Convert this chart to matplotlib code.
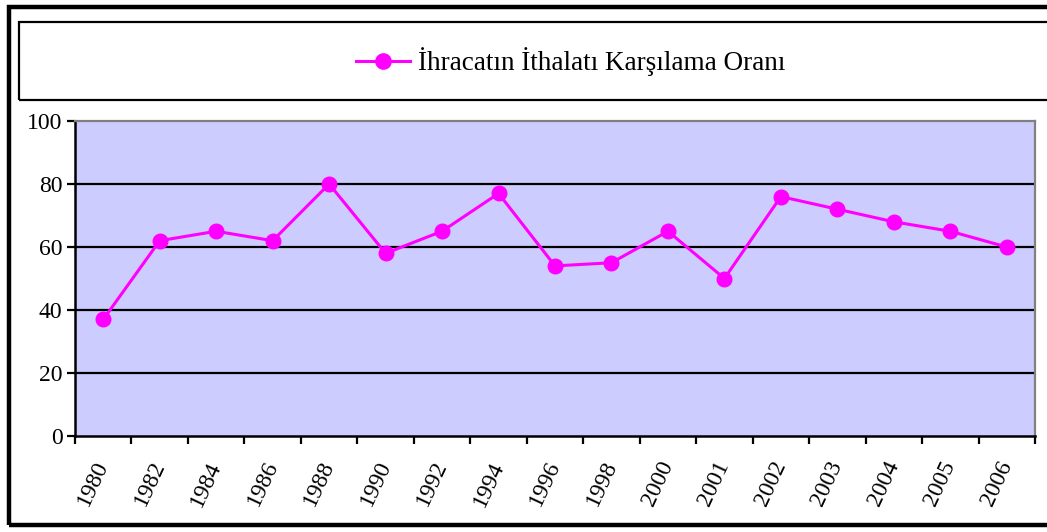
import matplotlib
matplotlib.use("Agg")
import matplotlib.pyplot as plt
from matplotlib.patches import Rectangle
from matplotlib.lines import Line2D

years = ["1980", "1982", "1984", "1986", "1988", "1990", "1992", "1994", "1996",
         "1998", "2000", "2001", "2002", "2003", "2004", "2005", "2006"]
ratio = [37, 62, 65, 62, 80, 58, 65, 77, 54, 55, 65, 50, 76, 72, 68, 65, 60]
yticks = [0, 20, 40, 60, 80, 100]
series_name = "İhracatın İthalatı Karşılama Oranı"

plt.rcParams['font.family'] = ['Liberation Serif', 'DejaVu Serif']

W, H = 1047, 532
fig = plt.figure(figsize=(W / 100, H / 100), dpi=100)

def fx(px):
    return px / W

def fy(py):
    return 1 - py / H

# outer border
fig.patches.append(Rectangle((fx(9), fy(525)), fx(1060) - fx(9), fy(7) - fy(525),
                             transform=fig.transFigure, fill=False,
                             edgecolor='black', linewidth=3.2, clip_on=False))
# legend box
fig.patches.append(Rectangle((fx(19), fy(100)), fx(1060) - fx(19), fy(22) - fy(100),
                             transform=fig.transFigure, fill=False,
                             edgecolor='black', linewidth=1.6, clip_on=False))

ax = fig.add_axes([fx(75), fy(436), fx(1035) - fx(75), fy(121) - fy(436)])
ax.set_facecolor('#CCCCFF')
x = list(range(len(years)))
ax.plot(x, ratio, color='#FF00FF', linewidth=2.2, marker='o', markersize=10.5,
        markerfacecolor='#FF00FF', markeredgecolor='#FF00FF', zorder=3)

ax.set_xlim(-0.5, len(years) - 0.5)
ax.set_ylim(0, 100)
ax.set_yticks(yticks)
ax.set_yticklabels([str(v) for v in yticks], fontsize=17)
for v in yticks[1:-1]:
    ax.axhline(v, color='black', linewidth=1.6, zorder=1)

ax.set_xticks(x)
ax.set_xticklabels(years, fontsize=17, rotation=65, ha='right', va='center',
                   rotation_mode='anchor')
ax.tick_params(axis='x', which='major', length=0, pad=19)
ax.set_xticks([i - 0.5 for i in range(len(years) + 1)], minor=True)
ax.tick_params(axis='x', which='minor', length=6, width=1.6, direction='out', color='black')
ax.tick_params(axis='y', length=6, width=1.6, direction='out', pad=3, color='black')

ax.spines['left'].set_color('black')
ax.spines['left'].set_linewidth(1.8)
ax.spines['bottom'].set_color('black')
ax.spines['bottom'].set_linewidth(1.8)
ax.spines['top'].set_color('#808080')
ax.spines['top'].set_linewidth(1.6)
ax.spines['right'].set_color('#808080')
ax.spines['right'].set_linewidth(1.6)

# legend
handle = Line2D([], [], color='#FF00FF', linewidth=2.2, marker='o', markersize=11,
                markerfacecolor='#FF00FF', markeredgecolor='#FF00FF')
fig.legend([handle], [series_name], loc='center', bbox_to_anchor=(fx(571), fy(62)),
           frameon=False, fontsize=19.5, handlelength=2.0, handletextpad=0.3)

fig.savefig('out.png', dpi=100)
